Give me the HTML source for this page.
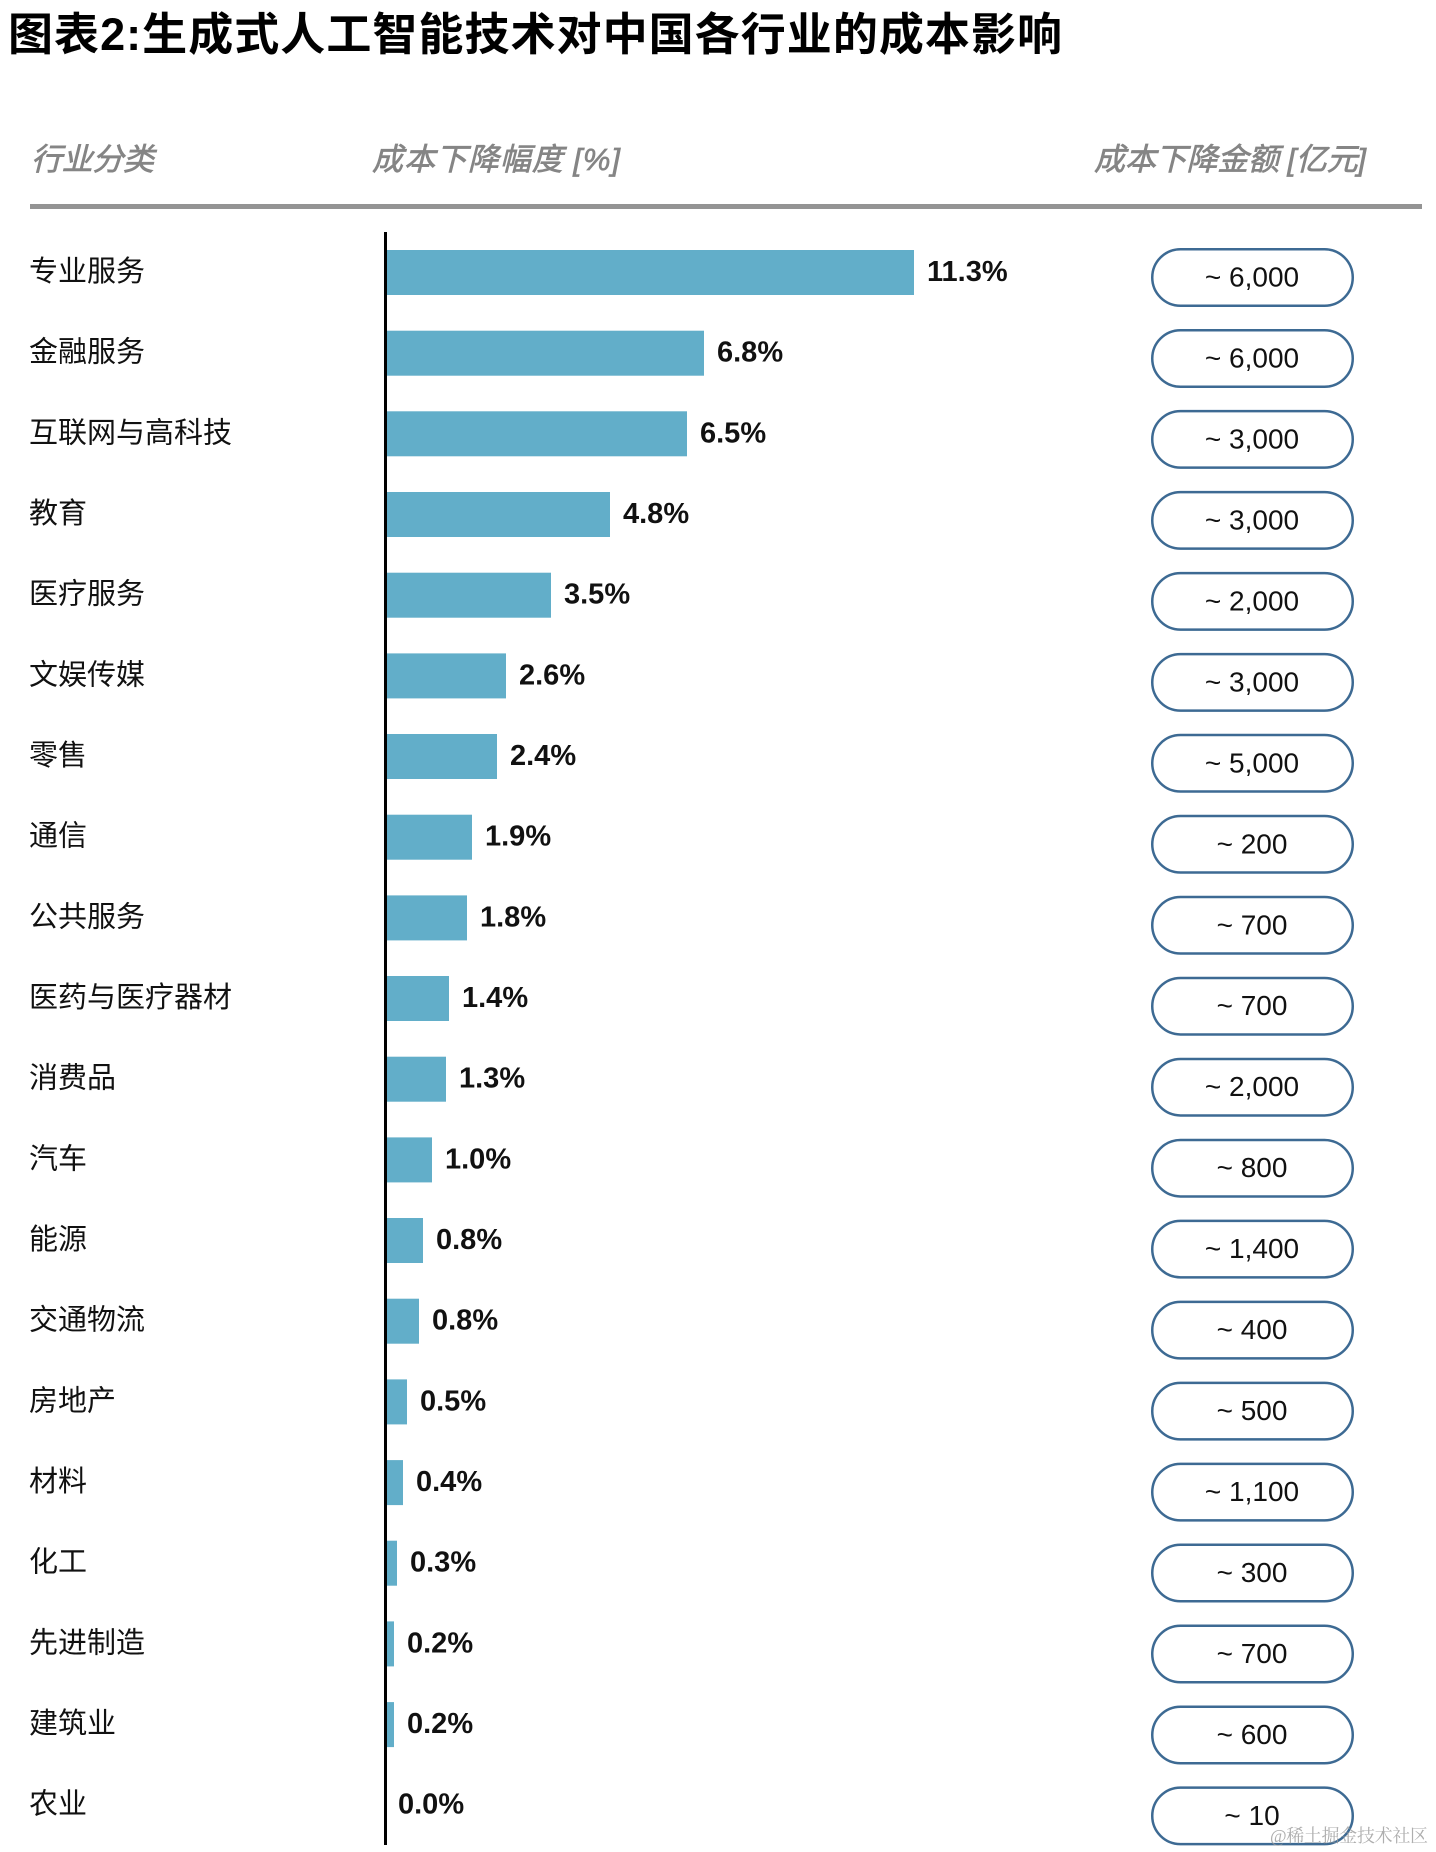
<!DOCTYPE html>
<html>
<head>
<meta charset="utf-8">
<style>
html,body{margin:0;padding:0;background:#fff;}
svg{display:block;}
.t{font-family:"Liberation Sans","Noto Sans CJK SC",sans-serif;}
.lab{font-size:29px;fill:#111;}
.val{font-size:29px;font-weight:bold;fill:#111;}
.pt{font-size:28px;fill:#111;text-anchor:middle;}
.bar{fill:#62aec9;}
.pill{fill:#fff;stroke:#3d6a93;stroke-width:2.5;}
.hd{font-size:31px;fill:#858585;font-style:italic;stroke:#858585;stroke-width:0.7px;}
</style>
</head>
<body>
<svg width="1436" height="1852" viewBox="0 0 1436 1852" xmlns="http://www.w3.org/2000/svg">
<rect x="0" y="0" width="1436" height="1852" fill="#fff"/>
<text class="t" x="8" y="50" font-size="45" font-weight="bold" fill="#000" textLength="1054" lengthAdjust="spacing">图表2:生成式人工智能技术对中国各行业的成本影响</text>

<text class="t hd" x="31" y="170" textLength="123" lengthAdjust="spacing">行业分类</text>
<text class="t hd" x="372" y="170" textLength="248" lengthAdjust="spacing">成本下降幅度 [%]</text>
<text class="t hd" x="1094" y="170" textLength="272" lengthAdjust="spacing">成本下降金额 [亿元]</text>

<rect x="30" y="204" width="1392" height="5" fill="#949494"/>
<rect x="384" y="232" width="3" height="1613" fill="#000"/>

<!-- bars -->
<rect class="bar" x="387" y="250.0" width="527" height="45"/>
<rect class="bar" x="387" y="330.7" width="317" height="45"/>
<rect class="bar" x="387" y="411.3" width="300" height="45"/>
<rect class="bar" x="387" y="492.0" width="223" height="45"/>
<rect class="bar" x="387" y="572.7" width="164" height="45"/>
<rect class="bar" x="387" y="653.4" width="119" height="45"/>
<rect class="bar" x="387" y="734.0" width="110" height="45"/>
<rect class="bar" x="387" y="814.7" width="85" height="45"/>
<rect class="bar" x="387" y="895.4" width="80" height="45"/>
<rect class="bar" x="387" y="976.0" width="62" height="45"/>
<rect class="bar" x="387" y="1056.7" width="59" height="45"/>
<rect class="bar" x="387" y="1137.4" width="45" height="45"/>
<rect class="bar" x="387" y="1218.0" width="36" height="45"/>
<rect class="bar" x="387" y="1298.7" width="32" height="45"/>
<rect class="bar" x="387" y="1379.4" width="20" height="45"/>
<rect class="bar" x="387" y="1460.1" width="16" height="45"/>
<rect class="bar" x="387" y="1540.7" width="10" height="45"/>
<rect class="bar" x="387" y="1621.4" width="7" height="45"/>
<rect class="bar" x="387" y="1702.1" width="7" height="45"/>

<!-- labels -->
<g class="t lab">
<text x="29" y="281.0">专业服务</text>
<text x="29" y="361.7">金融服务</text>
<text x="29" y="442.3">互联网与高科技</text>
<text x="29" y="523.0">教育</text>
<text x="29" y="603.7">医疗服务</text>
<text x="29" y="684.4">文娱传媒</text>
<text x="29" y="765.0">零售</text>
<text x="29" y="845.7">通信</text>
<text x="29" y="926.4">公共服务</text>
<text x="29" y="1007.0">医药与医疗器材</text>
<text x="29" y="1087.7">消费品</text>
<text x="29" y="1168.4">汽车</text>
<text x="29" y="1249.0">能源</text>
<text x="29" y="1329.7">交通物流</text>
<text x="29" y="1410.4">房地产</text>
<text x="29" y="1491.1">材料</text>
<text x="29" y="1571.7">化工</text>
<text x="29" y="1652.4">先进制造</text>
<text x="29" y="1733.1">建筑业</text>
<text x="29" y="1813.7">农业</text>
</g>

<!-- values -->
<g class="t val">
<text x="927" y="281.0">11.3%</text>
<text x="717" y="361.7">6.8%</text>
<text x="700" y="442.3">6.5%</text>
<text x="623" y="523.0">4.8%</text>
<text x="564" y="603.7">3.5%</text>
<text x="519" y="684.4">2.6%</text>
<text x="510" y="765.0">2.4%</text>
<text x="485" y="845.7">1.9%</text>
<text x="480" y="926.4">1.8%</text>
<text x="462" y="1007.0">1.4%</text>
<text x="459" y="1087.7">1.3%</text>
<text x="445" y="1168.4">1.0%</text>
<text x="436" y="1249.0">0.8%</text>
<text x="432" y="1329.7">0.8%</text>
<text x="420" y="1410.4">0.5%</text>
<text x="416" y="1491.1">0.4%</text>
<text x="410" y="1571.7">0.3%</text>
<text x="407" y="1652.4">0.2%</text>
<text x="407" y="1733.1">0.2%</text>
<text x="398" y="1813.7">0.0%</text>
</g>

<!-- pills -->
<g>
<rect class="pill" x="1152.25" y="249.25" width="200.5" height="56.5" rx="28.25"/>
<rect class="pill" x="1152.25" y="330.25" width="200.5" height="56.5" rx="28.25"/>
<rect class="pill" x="1152.25" y="411.15" width="200.5" height="56.5" rx="28.25"/>
<rect class="pill" x="1152.25" y="492.15" width="200.5" height="56.5" rx="28.25"/>
<rect class="pill" x="1152.25" y="573.15" width="200.5" height="56.5" rx="28.25"/>
<rect class="pill" x="1152.25" y="654.15" width="200.5" height="56.5" rx="28.25"/>
<rect class="pill" x="1152.25" y="735.05" width="200.5" height="56.5" rx="28.25"/>
<rect class="pill" x="1152.25" y="816.05" width="200.5" height="56.5" rx="28.25"/>
<rect class="pill" x="1152.25" y="897.05" width="200.5" height="56.5" rx="28.25"/>
<rect class="pill" x="1152.25" y="977.95" width="200.5" height="56.5" rx="28.25"/>
<rect class="pill" x="1152.25" y="1058.95" width="200.5" height="56.5" rx="28.25"/>
<rect class="pill" x="1152.25" y="1139.95" width="200.5" height="56.5" rx="28.25"/>
<rect class="pill" x="1152.25" y="1220.85" width="200.5" height="56.5" rx="28.25"/>
<rect class="pill" x="1152.25" y="1301.85" width="200.5" height="56.5" rx="28.25"/>
<rect class="pill" x="1152.25" y="1382.85" width="200.5" height="56.5" rx="28.25"/>
<rect class="pill" x="1152.25" y="1463.85" width="200.5" height="56.5" rx="28.25"/>
<rect class="pill" x="1152.25" y="1544.75" width="200.5" height="56.5" rx="28.25"/>
<rect class="pill" x="1152.25" y="1625.75" width="200.5" height="56.5" rx="28.25"/>
<rect class="pill" x="1152.25" y="1706.75" width="200.5" height="56.5" rx="28.25"/>
<rect class="pill" x="1152.25" y="1787.65" width="200.5" height="56.5" rx="28.25"/>
</g>
<g class="t pt">
<text x="1252" y="286.5">~ 6,000</text>
<text x="1252" y="367.5">~ 6,000</text>
<text x="1252" y="448.4">~ 3,000</text>
<text x="1252" y="529.4">~ 3,000</text>
<text x="1252" y="610.4">~ 2,000</text>
<text x="1252" y="691.4">~ 3,000</text>
<text x="1252" y="772.3">~ 5,000</text>
<text x="1252" y="853.3">~ 200</text>
<text x="1252" y="934.3">~ 700</text>
<text x="1252" y="1015.2">~ 700</text>
<text x="1252" y="1096.2">~ 2,000</text>
<text x="1252" y="1177.2">~ 800</text>
<text x="1252" y="1258.1">~ 1,400</text>
<text x="1252" y="1339.1">~ 400</text>
<text x="1252" y="1420.1">~ 500</text>
<text x="1252" y="1501.1">~ 1,100</text>
<text x="1252" y="1582.0">~ 300</text>
<text x="1252" y="1663.0">~ 700</text>
<text x="1252" y="1744.0">~ 600</text>
<text x="1252" y="1824.9">~ 10</text>
</g>

<text x="1270" y="1842" font-family="Liberation Serif, Noto Serif CJK SC, serif" font-size="18" fill="#9a9a9a" fill-opacity="0.8" textLength="158" lengthAdjust="spacing">@稀土掘金技术社区</text>
</svg>
</body>
</html>
